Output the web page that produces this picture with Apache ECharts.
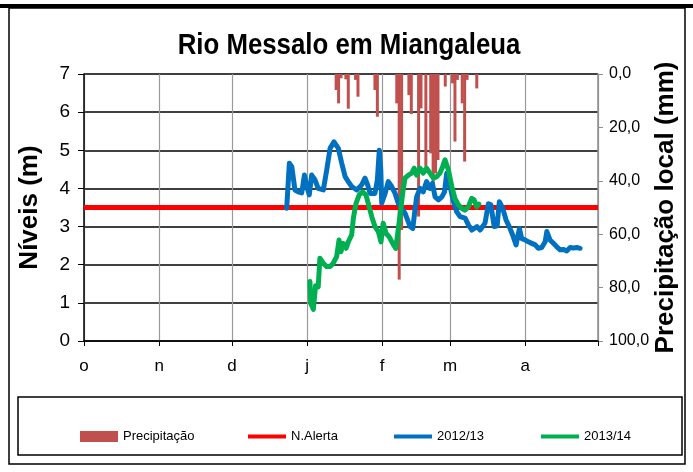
<!DOCTYPE html>
<html>
<head>
<meta charset="utf-8">
<script src="https://cdn.jsdelivr.net/npm/echarts@6/dist/echarts.min.js"></script>
<style>
  html, body { margin: 0; padding: 0; background: #fff; }
  #chart { width: 693px; height: 472px; }
</style>
</head>
<body>
<div id="chart"></div>
<script>
// x axis runs in days from 1 October (0) to 30 April (212)
const monthStarts = [0, 31, 61, 92, 123, 151, 182, 212];
const monthLabels = ['o', 'n', 'd', 'j', 'f', 'm', 'a', ''];

const alertLevel = 3.5;

const levels1213Days = [83.6, 84.7, 85.7, 87.0, 88.4, 89.8, 90.9, 91.9, 92.9, 93.9, 95.3, 96.6, 98.7, 100.1, 101.5, 103.1, 104.9, 106.3, 107.7, 109.0, 110.4, 112.5, 114.5, 115.9, 117.0, 118.0, 120.0, 121.0, 121.8, 122.4, 122.8, 124.2, 125.5, 126.9, 128.3, 129.6, 131.0, 132.4, 134.5, 135.6, 136.5, 137.2, 138.6, 139.9, 141.3, 142.7, 143.7, 144.8, 146.2, 147.6, 148.7, 149.6, 151.0, 152.4, 153.7, 155.1, 157.2, 158.6, 160.0, 162.1, 163.4, 165.4, 166.8, 167.8, 169.2, 170.4, 171.3, 172.7, 174.1, 175.4, 176.8, 178.2, 179.6, 180.5, 181.9, 183.3, 184.7, 186.1, 187.4, 188.8, 190.2, 190.9, 192.2, 193.6, 195.0, 196.4, 197.8, 199.1, 200.5, 201.9, 203.3, 204.6];
const levels1213 = [3.48, 4.66, 4.57, 3.96, 3.91, 3.88, 4.35, 4.05, 3.83, 4.35, 4.22, 4.00, 3.96, 4.48, 5.05, 5.22, 5.05, 4.66, 4.31, 4.18, 4.05, 3.96, 4.09, 4.27, 4.09, 3.87, 3.87, 4.22, 5.00, 4.48, 3.61, 3.87, 4.18, 4.05, 3.87, 3.61, 3.48, 3.35, 3.00, 2.95, 3.43, 3.78, 4.00, 3.91, 4.18, 4.00, 4.13, 3.78, 3.70, 3.78, 3.91, 4.40, 4.05, 3.65, 3.39, 3.26, 3.22, 3.04, 2.91, 3.00, 2.91, 3.09, 3.60, 3.57, 3.00, 3.02, 3.65, 3.48, 3.17, 3.00, 2.78, 2.52, 2.95, 2.69, 2.65, 2.60, 2.56, 2.52, 2.43, 2.45, 2.60, 2.87, 2.65, 2.56, 2.47, 2.39, 2.40, 2.36, 2.45, 2.44, 2.45, 2.43];

const levels1314Days = [93.2, 93.5, 94.6, 95.5, 96.6, 97.3, 98.7, 100.1, 101.5, 102.8, 104.2, 105.2, 106.0, 106.9, 108.1, 109.0, 110.4, 111.1, 112.2, 113.5, 114.9, 116.3, 117.6, 118.7, 120.0, 121.4, 122.5, 123.4, 124.6, 125.9, 127.3, 128.6, 129.4, 130.3, 131.5, 132.4, 133.8, 135.2, 136.2, 137.2, 138.6, 139.9, 141.3, 142.7, 144.1, 145.5, 146.8, 147.9, 148.9, 150.3, 151.7, 153.0, 154.4, 155.8, 157.1, 158.5, 159.9, 160.9, 162.0, 162.9];
const levels1314 = [1.56, 0.99, 0.83, 1.45, 1.42, 2.17, 2.04, 1.95, 1.95, 2.04, 2.21, 2.65, 2.34, 2.56, 2.43, 2.60, 2.78, 3.22, 3.61, 3.83, 3.91, 3.83, 3.52, 3.26, 3.00, 2.87, 2.60, 3.09, 2.82, 2.73, 2.56, 2.43, 2.82, 3.26, 3.91, 4.27, 4.35, 4.40, 4.53, 4.35, 4.53, 4.40, 4.53, 4.40, 4.27, 4.31, 4.40, 4.57, 4.75, 4.48, 4.05, 3.74, 3.57, 3.48, 3.43, 3.52, 3.74, 3.70, 3.52, 3.59];

const rainDays = [104, 105, 106, 108, 109, 112, 113, 120, 121, 129, 130, 131, 134, 135, 138, 139, 141, 143, 144, 145, 146, 149, 152, 153, 154, 156, 157, 158, 162];
const rainMm = [6.0, 11.0, 1.6, 2.0, 13.0, 2.2, 8.5, 6.0, 16.0, 11.0, 77.0, 58.4, 7.9, 15.0, 53.4, 12.9, 34.7, 29.7, 43.4, 37.2, 32.2, 4.7, 3.5, 25.3, 2.2, 11.0, 32.8, 2.2, 5.4];

const pair = (xs, ys) => xs.map((x, i) => [x, ys[i]]);

const plain = "'Liberation Sans', Arial, sans-serif";

const chart = echarts.init(document.getElementById('chart'), null, { renderer: 'canvas' });

function legendAt(left, name, isBar) {
  return {
    left: left,
    top: 430,
    padding: 0,
    itemWidth: 38,
    itemHeight: isBar ? 11 : 4,
    itemGap: 0,
    icon: 'rect',
    data: [name],
    selectedMode: false,
    textStyle: { fontFamily: plain, fontSize: 13, color: '#000' }
  };
}

chart.setOption({
  animation: false,
  legend: [
    legendAt(80, 'Precipitação', true),
    legendAt(248, 'N.Alerta', false),
    legendAt(394, '2012/13', false),
    legendAt(541, '2013/14', false)
  ],
  grid: { left: 84, right: 95, top: 74, bottom: 131 },
  xAxis: {
    type: 'value',
    min: 0,
    max: 212,
    axisLine: { show: true, onZero: false, lineStyle: { color: '#000', width: 1.5 } },
    axisTick: { show: true, customValues: monthStarts, length: 5, lineStyle: { color: '#000' } },
    axisLabel: {
      customValues: monthStarts.slice(0, 7),
      formatter: v => monthLabels[monthStarts.indexOf(v)],
      fontFamily: plain, fontSize: 17, color: '#000', margin: 17
    },
    splitLine: { show: true, lineStyle: { color: '#9a9a9a', width: 1.2 } }
  },
  yAxis: [
    {
      type: 'value',
      min: 0, max: 7, interval: 1,
      name: 'Níveis (m)',
      nameLocation: 'middle',
      nameRotate: 90,
      nameGap: 41,
      nameMoveOverlap: false,
      nameTextStyle: { fontFamily: plain, fontSize: 26, fontWeight: 'bold', color: '#000' },
      axisLine: { show: true, lineStyle: { color: '#000', width: 1.5 } },
      axisTick: { show: true, length: 6, lineStyle: { color: '#000' } },
      axisLabel: { fontFamily: plain, fontSize: 19, color: '#000', margin: 14 },
      splitLine: { show: true, lineStyle: { color: '#000', width: 1.5 } }
    },
    {
      type: 'value',
      position: 'right',
      inverse: true,
      min: 0, max: 100, interval: 20,
      name: 'Precipitação local (mm)',
      nameLocation: 'middle',
      nameRotate: 90,
      nameGap: 55,
      nameMoveOverlap: false,
      nameTextStyle: { fontFamily: plain, fontSize: 26, fontWeight: 'bold', color: '#000' },
      axisLine: { show: true, lineStyle: { color: '#8c8c8c', width: 1.5 } },
      axisTick: { show: true, length: 5, lineStyle: { color: '#8c8c8c' } },
      axisLabel: {
        fontFamily: plain, fontSize: 16, color: '#000', margin: 11,
        formatter: v => v.toFixed(1).replace('.', ',')
      },
      splitLine: { show: false }
    }
  ],
  series: [
    {
      name: 'Precipitação',
      type: 'bar',
      yAxisIndex: 1,
      barWidth: 3,
      itemStyle: { color: '#C0504D' },
      data: pair(rainDays, rainMm),
      z: 1
    },
    {
      name: 'N.Alerta',
      type: 'line',
      symbol: 'none',
      color: '#FF0000',
      lineStyle: { color: '#FF0000', width: 5 },
      data: [[0, alertLevel], [212, alertLevel]],
      z: 2
    },
    {
      name: '2012/13',
      type: 'line',
      symbol: 'none',
      color: '#0070C0',
      lineStyle: { color: '#0070C0', width: 5, cap: 'round', join: 'round' },
      data: pair(levels1213Days, levels1213),
      z: 3
    },
    {
      name: '2013/14',
      type: 'line',
      symbol: 'none',
      color: '#00B050',
      lineStyle: { color: '#00B050', width: 5, cap: 'round', join: 'round' },
      data: pair(levels1314Days, levels1314),
      z: 4
    }
  ],
  graphic: [
    {
      type: 'text', x: 349, y: 46, scaleX: 0.86,
      style: {
        text: 'Rio Messalo em Miangaleua', x: 0, y: 0,
        textAlign: 'center', textVerticalAlign: 'middle',
        font: "bold 30px 'Liberation Sans', Arial, sans-serif", fill: '#000'
      }
    },
    { type: 'line', shape: { x1: 0, y1: 6, x2: 693, y2: 6 }, style: { stroke: '#000', lineWidth: 4 } },
    { type: 'rect', shape: { x: 9, y: 8, width: 676, height: 456 }, style: { fill: null, stroke: '#000', lineWidth: 1.5 } },
    { type: 'rect', shape: { x: 18, y: 397, width: 664, height: 58 }, style: { fill: null, stroke: '#000', lineWidth: 1.5 } }
  ]
});
</script>
</body>
</html>
